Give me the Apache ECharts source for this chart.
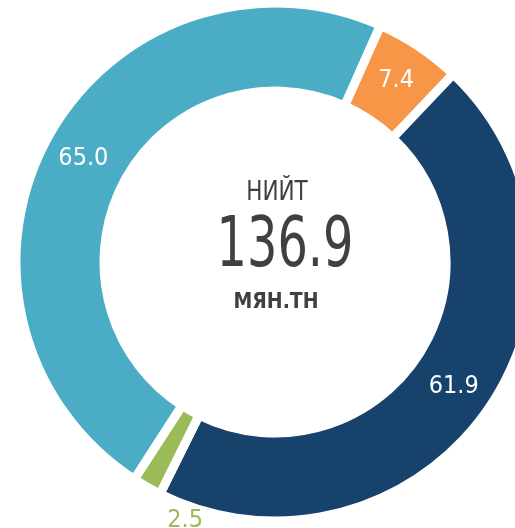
<!DOCTYPE html>
<html>
<head>
<meta charset="utf-8">
<title>Нийт</title>
<script src="https://cdn.jsdelivr.net/npm/echarts@6/dist/echarts.min.js"></script>
<style>
  html, body { margin: 0; padding: 0; background: #fff; }
  #chart { width: 515px; height: 528px; }
</style>
</head>
<body>
<div id="chart"></div>
<script>
// data
var names  = ['A', 'B', 'C', 'D'];
var values = [7.4, 61.9, 2.5, 65.0];
var colors = ['#f79646', '#17426b', '#9bbb59', '#4bacc6'];
var totalLabel = '136.9';

var font = '"DejaVu Sans Condensed", sans-serif';

var data = [];
for (var i = 0; i < values.length; i++) {
  var item = { name: names[i], value: values[i], itemStyle: { color: colors[i] } };
  if (i == 2) {
    // small slice: label sits under the ring
    item.label = { color: colors[i], offset: [18, 69] };
  }
  data.push(item);
}

var chart = echarts.init(document.getElementById('chart'));
chart.setOption({
  animation: false,
  graphic: [
    { type: 'text', x: 277, y: 193, scaleX: 0.92, style: { text: 'НИЙТ', font: '26px ' + font, fill: '#404040', align: 'center', verticalAlign: 'middle' } },
    { type: 'text', x: 285, y: 248, scaleX: 0.76, style: { text: totalLabel, font: '70px ' + font, fill: '#404040', align: 'center', verticalAlign: 'middle' } },
    { type: 'text', x: 276, y: 303, style: { text: 'МЯН.ТН', font: 'bold 21px ' + font, fill: '#404040', align: 'center', verticalAlign: 'middle' } }
  ],
  series: [{
    type: 'pie',
    center: [275, 262],
    radius: [171, 259],
    startAngle: 66,
    clockwise: true,
    itemStyle: { borderColor: '#fff', borderWidth: 9 },
    label: {
      show: true,
      position: 'inside',
      color: '#fff',
      fontSize: 25,
      fontFamily: font,
      formatter: function (p) { return p.value.toFixed(1); }
    },
    labelLine: { show: false },
    emphasis: { disabled: true },
    data: data
  }]
});
</script>
</body>
</html>
